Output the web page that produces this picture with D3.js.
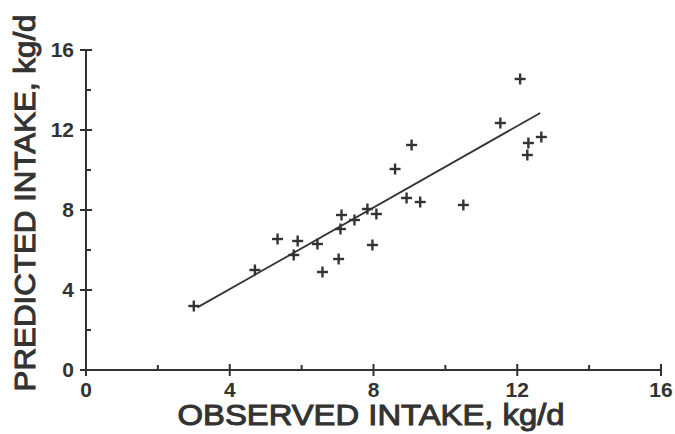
<!DOCTYPE html>
<html>
<head>
<meta charset="utf-8">
<script src="https://cdn.jsdelivr.net/npm/d3@7"></script>
<style>
  body { margin: 0; background: #fff; }
  svg text { font-family: "Liberation Sans", Arial, sans-serif; fill: #333; }
</style>
</head>
<body>
<div id="chart-area"></div>
<script>
// observed vs predicted intake, kg/d
const observed  = [3.0, 4.7, 5.33, 5.89, 5.78, 6.44, 6.58, 7.03, 7.08, 7.11, 7.47, 7.83,
                   8.08, 7.97, 8.92, 9.3, 8.6, 9.06, 10.5, 11.53, 12.08, 12.67, 12.31, 12.28];
const predicted = [3.2, 5.0, 6.55, 6.45, 5.75, 6.3, 4.9, 5.55, 7.05, 7.75, 7.5, 8.05,
                   7.8, 6.25, 8.6, 8.4, 10.05, 11.25, 8.25, 12.35, 14.55, 11.65, 11.35, 10.75];

// regression line end points
const fitX = [3.1, 12.64];
const fitY = [3.13, 12.85];

const majorTicks = [0, 4, 8, 12, 16];
const minorTicks = [2, 6, 10, 14];

const ink = '#333';

const svg = d3.select("#chart-area").append("svg")
  .attr("width", 675)
  .attr("height", 434);

const x = d3.scaleLinear().domain([0, 16]).range([86, 661]);
const y = d3.scaleLinear().domain([0, 16]).range([370, 50]);

// axis lines
svg.append("line")
  .attr("x1", x(0)).attr("x2", x(16))
  .attr("y1", y(0)).attr("y2", y(0))
  .attr("stroke", ink).attr("stroke-width", 2);
svg.append("line")
  .attr("x1", x(0)).attr("x2", x(0))
  .attr("y1", y(0)).attr("y2", y(16))
  .attr("stroke", ink).attr("stroke-width", 2);

// x ticks
svg.selectAll(".xmaj").data(majorTicks).enter().append("line")
  .attr("x1", d => x(d)).attr("x2", d => x(d))
  .attr("y1", y(0) - 6).attr("y2", y(0) + 6)
  .attr("stroke", ink).attr("stroke-width", 2);
svg.selectAll(".xmin").data(minorTicks).enter().append("line")
  .attr("x1", d => x(d)).attr("x2", d => x(d))
  .attr("y1", y(0) - 5).attr("y2", y(0))
  .attr("stroke", ink).attr("stroke-width", 2);
svg.selectAll(".xlab").data(majorTicks).enter().append("text")
  .attr("x", d => x(d)).attr("y", 397)
  .attr("text-anchor", "middle")
  .attr("font-size", 21).attr("font-weight", "bold")
  .text(d => d);

// y ticks
svg.selectAll(".ymaj").data(majorTicks).enter().append("line")
  .attr("x1", x(0) - 6).attr("x2", x(0) + 6)
  .attr("y1", d => y(d)).attr("y2", d => y(d))
  .attr("stroke", ink).attr("stroke-width", 2);
svg.selectAll(".ymin").data(minorTicks).enter().append("line")
  .attr("x1", x(0)).attr("x2", x(0) + 5)
  .attr("y1", d => y(d)).attr("y2", d => y(d))
  .attr("stroke", ink).attr("stroke-width", 2);
svg.selectAll(".ylab").data(majorTicks).enter().append("text")
  .attr("x", 74).attr("y", d => y(d) + 7)
  .attr("text-anchor", "end")
  .attr("font-size", 21).attr("font-weight", "bold")
  .text(d => d);

// titles
svg.append("text")
  .attr("x", 371).attr("y", 425)
  .attr("text-anchor", "middle")
  .attr("font-size", 29)
  .attr("stroke", ink).attr("stroke-width", 1)
  .attr("textLength", 387).attr("lengthAdjust", "spacingAndGlyphs")
  .text("OBSERVED INTAKE, kg/d");

svg.append("text")
  .attr("transform", "translate(35,203) rotate(-90)")
  .attr("text-anchor", "middle")
  .attr("font-size", 29)
  .attr("stroke", ink).attr("stroke-width", 1)
  .attr("textLength", 377).attr("lengthAdjust", "spacingAndGlyphs")
  .text("PREDICTED INTAKE, kg/d");

// fitted line
svg.append("line")
  .attr("x1", x(fitX[0])).attr("y1", y(fitY[0]))
  .attr("x2", x(fitX[1])).attr("y2", y(fitY[1]))
  .attr("stroke", ink).attr("stroke-width", 1.8);

// plus markers
const pts = observed.map((d, i) => ({ o: d, p: predicted[i] }));
const g = svg.selectAll(".pt").data(pts).enter().append("g")
  .attr("transform", d => `translate(${x(d.o)},${y(d.p)})`);
g.append("line").attr("x1", -5.5).attr("x2", 5.5).attr("y1", 0).attr("y2", 0)
  .attr("stroke", ink).attr("stroke-width", 2.4);
g.append("line").attr("x1", 0).attr("x2", 0).attr("y1", -5.5).attr("y2", 5.5)
  .attr("stroke", ink).attr("stroke-width", 2.4);
</script>
</body>
</html>
